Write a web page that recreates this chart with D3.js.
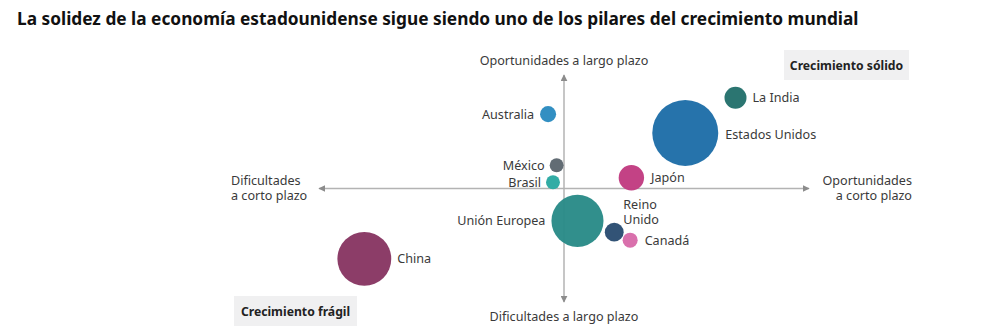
<!DOCTYPE html>
<meta charset="utf-8">
<style>
body { margin: 0; background: #fff; }
svg text { font-family: "Noto Sans", Lato, sans-serif; }
.title { font-size: 17.3px; font-weight: 700; fill: #111; }
.lbl { font-size: 12.6px; fill: #3a3a3a; }
.quad { font-size: 12.2px; font-weight: 700; fill: #222; }
.axis line { stroke: #b3b3b3; stroke-width: 1.5px; }
</style>
<svg width="981" height="336"></svg>
<script src="https://cdn.jsdelivr.net/npm/d3@7"></script>
<script>

// countries, position on the two axes (-10..10) and economy size
var countries = ["Australia", "La India", "Estados Unidos", "México", "Brasil",
                 "Unión Europea", "China", "Japón", "Reino Unido", "Canadá"];
var shortTerm = [-0.65, 7.0, 4.95, -0.3, -0.45, 0.55, -8.15, 2.75, 2.05, 2.7];
var longTerm  = [6.55, 8.0, 4.9, 2.05, 0.55, -2.85, -6.2, 0.95, -3.85, -4.55];
var sizes     = [1.6, 3.0, 27, 1.2, 1.2, 16.8, 18, 4.0, 2.2, 1.4];
var colors    = ["#2b8bc0", "#24716c", "#1f6ea8", "#5d6770", "#2ba9a2",
                 "#2a8b88", "#883763", "#c13c81", "#2b4d72", "#d86ba9"];

var title = "La solidez de la economía estadounidense sigue siendo uno de los pilares del crecimiento mundial";
var axisTop = "Oportunidades a largo plazo";
var axisBottom = "Dificultades a largo plazo";
var axisLeft = ["Dificultades", "a corto plazo"];
var axisRight = ["Oportunidades", "a corto plazo"];
var quadTop = "Crecimiento sólido";
var quadBottom = "Crecimiento frágil";

// where each label sits relative to its bubble
var labelPlace = {
  "Australia":      {side: "left"},
  "La India":       {side: "right"},
  "Estados Unidos": {side: "right", gap: 7, dy: 2},
  "México":         {side: "left", gap: 5},
  "Brasil":         {side: "left", gap: 5},
  "Unión Europea":  {side: "left", gap: 6},
  "China":          {side: "right", gap: 6},
  "Japón":          {side: "right", gap: 7},
  "Reino Unido":    {side: "above"},
  "Canadá":         {side: "right", gap: 7}
};

var svg = d3.select("svg");

var x = d3.scaleLinear().domain([-10, 10]).range([319, 809]);
var y = d3.scaleLinear().domain([-10, 10]).range([302, 75]);
var r = d3.scaleSqrt().domain([0, 27]).range([0, 33]);

svg.append("text").attr("class", "title")
    .attr("x", 17).attr("y", 25).text(title);

svg.append("defs").append("marker")
    .attr("id", "arr").attr("viewBox", "0 0 10 10")
    .attr("refX", 9).attr("refY", 5)
    .attr("markerWidth", 7).attr("markerHeight", 7)
    .attr("markerUnits", "userSpaceOnUse")
    .attr("orient", "auto")
  .append("path").attr("d", "M0,0L10,5L0,10Z").attr("fill", "#8c8c8c");

var axis = svg.append("g").attr("class", "axis");
axis.append("line")
    .attr("x1", x(0)).attr("x2", x(0)).attr("y1", y(0)).attr("y2", y(10))
    .attr("marker-end", "url(#arr)");
axis.append("line")
    .attr("x1", x(0)).attr("x2", x(0)).attr("y1", y(0)).attr("y2", y(-10))
    .attr("marker-end", "url(#arr)");
axis.append("line")
    .attr("x1", x(0)).attr("x2", x(10)).attr("y1", y(0)).attr("y2", y(0))
    .attr("marker-end", "url(#arr)");
axis.append("line")
    .attr("x1", x(0)).attr("x2", x(-10)).attr("y1", y(0)).attr("y2", y(0))
    .attr("marker-end", "url(#arr)");

svg.append("text").attr("class", "lbl")
    .attr("x", x(0)).attr("y", y(10) - 10).attr("text-anchor", "middle").text(axisTop);
svg.append("text").attr("class", "lbl")
    .attr("x", x(0)).attr("y", y(-10) + 19).attr("text-anchor", "middle").text(axisBottom);

// two-line side labels, one text per line
axisLeft.forEach(function(line, i) {
  svg.append("text").attr("class", "lbl")
      .attr("x", x(-10) - 88).attr("y", y(0) - 4 + i * 15).text(line);
});
axisRight.forEach(function(line, i) {
  svg.append("text").attr("class", "lbl").attr("text-anchor", "end")
      .attr("x", x(10) + 103).attr("y", y(0) - 4 + i * 15).text(line);
});

function quadBox(txt, x0, y0, w, h) {
  var g = svg.append("g");
  g.append("rect").attr("x", x0).attr("y", y0).attr("width", w).attr("height", h)
      .attr("fill", "#f0f0f1");
  g.append("text").attr("class", "quad")
      .attr("x", x0 + w / 2).attr("y", y0 + h / 2 + 4.5)
      .attr("text-anchor", "middle").text(txt);
}
quadBox(quadTop, 784, 50, 125, 30);
quadBox(quadBottom, 234, 296, 123, 30);

var data = countries.map(function(c, i) {
  return {name: c, sx: shortTerm[i], ly: longTerm[i], size: sizes[i], color: colors[i]};
});

svg.append("g").selectAll("circle")
    .data(data).enter().append("circle")
    .attr("cx", function(d) { return x(d.sx); })
    .attr("cy", function(d) { return y(d.ly); })
    .attr("r", function(d) { return r(d.size); })
    .attr("fill", function(d) { return d.color; })
    .attr("fill-opacity", 0.97);

var labels = svg.append("g");

data.forEach(function(d) {
  var p = labelPlace[d.name];
  var cx = x(d.sx), cy = y(d.ly), rr = r(d.size), gap = p.gap || 6;
  if (p.side === "above") {
    d.name.split(" ").forEach(function(w, i) {
      labels.append("text").attr("class", "lbl")
          .attr("x", cx + 9).attr("y", cy - 23 + i * 15).text(w);
    });
    return;
  }
  var t = labels.append("text").attr("class", "lbl")
      .attr("y", cy + 4.5 + (p.dy || 0)).text(d.name);
  if (p.side === "left") {
    t.attr("x", cx - rr - gap).attr("text-anchor", "end");
  } else {
    t.attr("x", cx + rr + gap);
  }
});

</script>
